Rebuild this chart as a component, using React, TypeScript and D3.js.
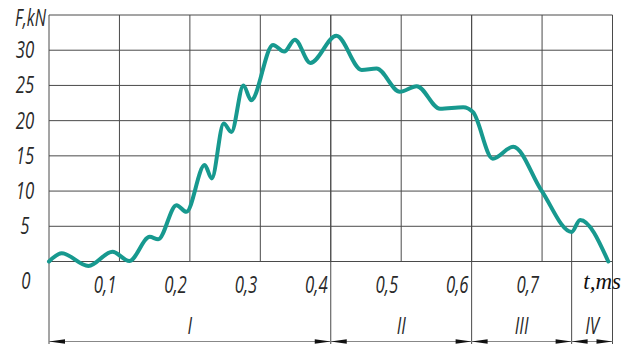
import React from "react";
import * as d3 from "d3";

// Force–time record of the impact pulse
const timeMs = [0, 0.018, 0.056, 0.09, 0.114, 0.143, 0.155, 0.181, 0.195, 0.221, 0.231, 0.248, 0.259, 0.276, 0.287, 0.318, 0.334, 0.349, 0.371, 0.408, 0.444, 0.465, 0.498, 0.522, 0.555, 0.588, 0.602, 0.63, 0.659, 0.699, 0.742, 0.754, 0.794];
const forceKN = [0, 1.16, -0.64, 1.39, 0.07, 3.5, 3.15, 8.0, 7.06, 13.7, 11.8, 19.6, 18.4, 25.0, 22.9, 30.75, 29.8, 31.5, 28.2, 32.05, 27.2, 27.4, 24.1, 24.9, 21.7, 21.9, 21.2, 14.6, 16.3, 10.1, 4.2, 5.9, 0];

const xTicks = [0.1, 0.2, 0.3, 0.4, 0.5, 0.6, 0.7];
const xTickLabels = ["0,1", "0,2", "0,3", "0,4", "0,5", "0,6", "0,7"];
const yTicks = [5, 10, 15, 20, 25, 30];
const yGrid = [0, 5, 10, 15, 20, 25, 30, 35];

// Stages of the pulse
const phaseBounds = [0, 0.4, 0.6, 0.742, 0.8];
const phaseLabels = ["I", "II", "III", "IV"];
const phaseEndForce = 4.2; // force at the III/IV boundary

const W = 621;
const H = 345;
const TEAL = "#17998f";
const GRID = "#4a4a4a";
const labelFont = "'Open Sans', 'DejaVu Sans Condensed', sans-serif";

// Narrow italic lettering, compressed horizontally around its anchor
function Label(props: {
  x: number;
  y: number;
  anchor?: "start" | "middle" | "end";
  size?: number;
  children: React.ReactNode;
}) {
  const { x, y, anchor = "middle", size = 24, children } = props;
  return (
    <text
      transform={`translate(${x},${y}) scale(0.7,1)`}
      textAnchor={anchor}
      fontFamily={labelFont}
      fontStyle="italic"
      fontWeight={400}
      fontSize={size}
      fill="#2a2a2a"
    >
      {children}
    </text>
  );
}

export default function App() {
  const x = d3.scaleLinear().domain([0, 0.8]).range([49, 612.5]);
  const y = d3.scaleLinear().domain([0, 35]).range([261.5, 15]);
  const bottom = 344;
  const dimY = 341.5;

  const pts: [number, number][] = timeMs.map((t, i) => [t, forceKN[i]]);
  const line = d3
    .line<[number, number]>()
    .x((d) => x(d[0]))
    .y((d) => y(d[1]))
    .curve(d3.curveMonotoneX);

  const extended = [0, 0.4, 0.6, 0.8];
  const arrowLen = 16;
  const arrowHalf = 2.2;

  const arrow = (tip: number, dir: number) => {
    const bx = tip + dir * arrowLen;
    return `M${tip},${dimY}L${bx},${dimY - arrowHalf}L${bx},${dimY + arrowHalf}Z`;
  };

  return (
    <svg
      width={W}
      height={H}
      style={{ position: "fixed", left: 0, top: 0, background: "#fff" }}
    >
      <rect width={W} height={H} fill="#fff" />
      {/* horizontal grid */}
      {yGrid.map((v) => (
        <line key={"h" + v} x1={x(0)} x2={x(0.8)} y1={y(v)} y2={y(v)} stroke={GRID} strokeWidth={1} />
      ))}
      {/* vertical grid inside the plot */}
      {xTicks.map((t) => (
        <line key={"v" + t} x1={x(t)} x2={x(t)} y1={y(35)} y2={y(0)} stroke={GRID} strokeWidth={1} />
      ))}
      {/* borders and stage boundaries running down to the dimension line */}
      {extended.map((t) => (
        <line key={"e" + t} x1={x(t)} x2={x(t)} y1={y(35)} y2={bottom} stroke={GRID} strokeWidth={1} />
      ))}
      <line x1={x(phaseBounds[3])} x2={x(phaseBounds[3])} y1={y(phaseEndForce)} y2={bottom} stroke={GRID} strokeWidth={1} />

      {/* dimension line with arrows */}
      <line x1={x(0)} x2={x(0.8)} y1={dimY} y2={dimY} stroke="#888" strokeWidth={1} />
      {phaseLabels.map((lab, i) => {
        const a = phaseBounds[i];
        const b = phaseBounds[i + 1];
        return (
          <g key={lab}>
            <path d={arrow(x(a), 1)} fill="#111" />
            <path d={arrow(x(b), -1)} fill="#111" />
            <Label x={(x(a) + x(b)) / 2} y={334}>
              {lab}
            </Label>
          </g>
        );
      })}

      {/* curve */}
      <path d={line(pts) || ""} fill="none" stroke={TEAL} strokeWidth={4} strokeLinejoin="round" strokeLinecap="round" />

      {/* y axis labels */}
      {yTicks.map((v) => (
        <Label key={"yl" + v} x={25} y={y(v) + 8}>
          {v}
        </Label>
      ))}
      <Label x={26} y={289}>0</Label>
      <Label x={46} y={26} anchor="end" size={23}>F,kN</Label>

      {/* x axis labels */}
      {xTicks.map((t, i) => (
        <Label key={"xl" + t} x={x(t) - 3} y={293} anchor="end">
          {xTickLabels[i]}
        </Label>
      ))}
      <text
        x={621}
        y={289}
        textAnchor="end"
        fontFamily="'Liberation Serif', serif"
        fontStyle="italic"
        fontWeight={400}
        fontSize={23}
        fill="#111"
      >
        t,ms
      </text>
    </svg>
  );
}
